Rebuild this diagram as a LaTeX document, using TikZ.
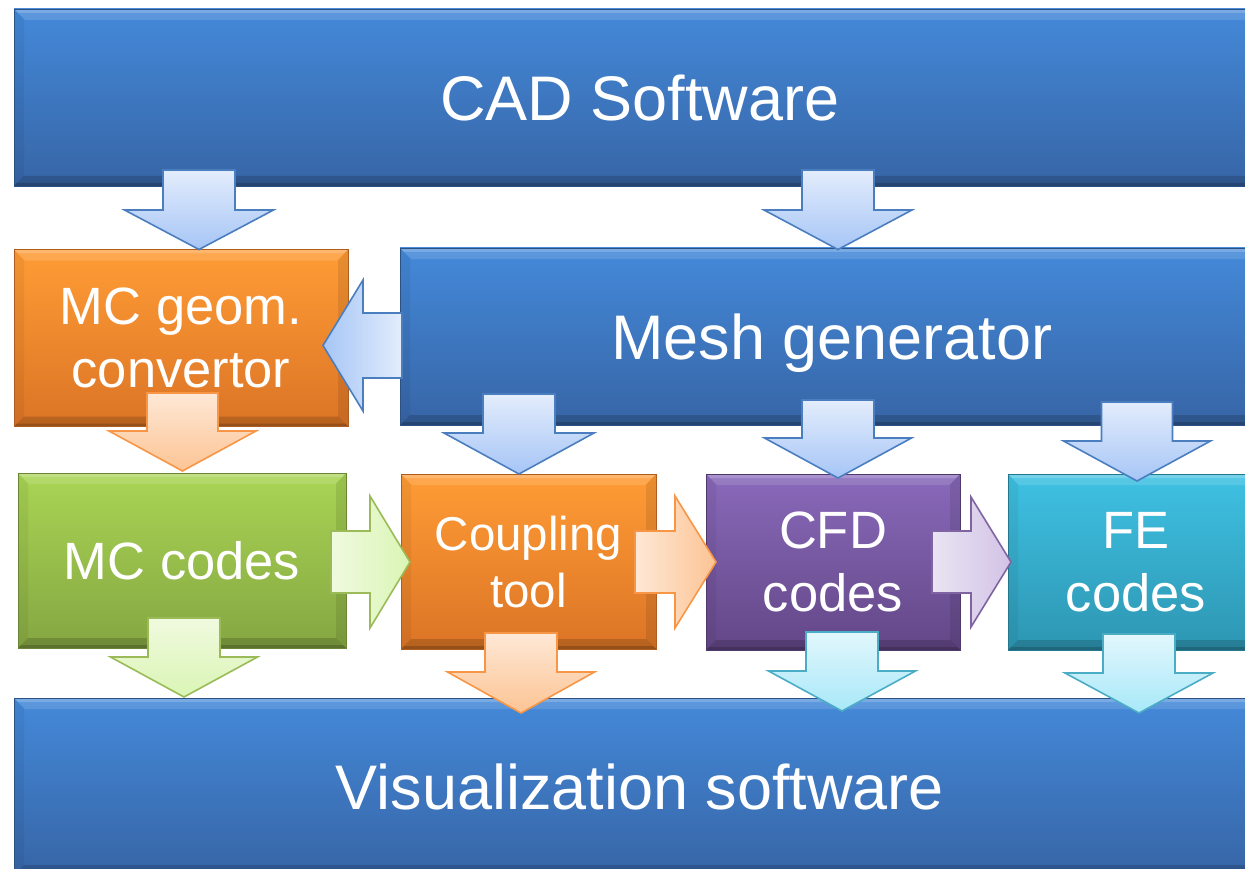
\documentclass[tikz,border=0pt]{standalone}
\usepackage{fontspec}
\setmainfont{Liberation Sans}
\usetikzlibrary{calc}

% panel colours (top / bottom of the vertical gradient)
\definecolor{bluetop}{HTML}{4489D9}
\definecolor{bluebot}{HTML}{3765A6}
\definecolor{orgtop}{HTML}{FF9C35}
\definecolor{orgbot}{HTML}{DB7426}
\definecolor{grntop}{HTML}{A9D554}
\definecolor{grnbot}{HTML}{85A642}
\definecolor{purtop}{HTML}{8969BA}
\definecolor{purbot}{HTML}{634787}
\definecolor{cyntop}{HTML}{3FC1E3}
\definecolor{cynbot}{HTML}{2D96B2}

% block-arrow colours (tail tint, tip tint, outline)
\definecolor{ablt}{HTML}{E3EDFC}
\definecolor{abld}{HTML}{A6C5F6}
\definecolor{ablb}{HTML}{4A7EBF}
\definecolor{aort}{HTML}{FEE8D6}
\definecolor{aord}{HTML}{FCC494}
\definecolor{aorb}{HTML}{F79646}
\definecolor{agrt}{HTML}{F0FADF}
\definecolor{agrd}{HTML}{DAF5B5}
\definecolor{agrb}{HTML}{9BBB59}
\definecolor{aput}{HTML}{EAE4F3}
\definecolor{apud}{HTML}{D2C3E6}
\definecolor{apub}{HTML}{8064A2}
\definecolor{acyt}{HTML}{E2F7FD}
\definecolor{acyd}{HTML}{A8E8F8}
\definecolor{acyb}{HTML}{4BACC6}

\newcommand\fontL{\fontsize{63}{76}\selectfont}
\newcommand\fontM{\fontsize{52.5}{63}\selectfont}
\newcommand\fontS{\fontsize{47.5}{57}\selectfont}

% block arrow: #1 style, #2 tail, #3 tip, #4 half shaft, #5 half head, #6 head length
\newcommand\blockarrow[6]{%
  \coordinate (hb) at ($(#3)!#6!(#2)$);
  \path[#1] ($(#2)!#4!90:(#3)$) -- ($(hb)!#4!90:(#3)$) -- ($(hb)!#5!90:(#3)$) -- (#3)
     -- ($(hb)!#5!-90:(#3)$) -- ($(hb)!#4!-90:(#3)$) -- ($(#2)!#4!-90:(#3)$) -- cycle;
}

\tikzset{
  panel/.style={rectangle, inner sep=0pt, text=white, align=center, text depth=0pt,
    top color=#1top, bottom color=#1bot, draw=#1bot!80!black, line width=0.5pt,
    path picture={
      % bevelled frame: light top, dark bottom, slightly dark sides
      \fill[white,opacity=.13]
        (path picture bounding box.north west) -- (path picture bounding box.north east)
        -- ([xshift=-11pt,yshift=-11pt]path picture bounding box.north east)
        -- ([xshift=11pt,yshift=-11pt]path picture bounding box.north west) -- cycle;
      \fill[white,opacity=.18]
        (path picture bounding box.north west) -- (path picture bounding box.north east)
        -- ([xshift=-4pt,yshift=-4pt]path picture bounding box.north east)
        -- ([xshift=4pt,yshift=-4pt]path picture bounding box.north west) -- cycle;
      \fill[black,opacity=.16]
        (path picture bounding box.south west) -- (path picture bounding box.south east)
        -- ([xshift=-10pt,yshift=10pt]path picture bounding box.south east)
        -- ([xshift=10pt,yshift=10pt]path picture bounding box.south west) -- cycle;
      \fill[black,opacity=.18]
        (path picture bounding box.south west) -- (path picture bounding box.south east)
        -- ([xshift=-3pt,yshift=3pt]path picture bounding box.south east)
        -- ([xshift=3pt,yshift=3pt]path picture bounding box.south west) -- cycle;
      \fill[black,opacity=.05]
        (path picture bounding box.north west) -- (path picture bounding box.south west)
        -- ([xshift=10pt,yshift=10pt]path picture bounding box.south west)
        -- ([xshift=10pt,yshift=-11pt]path picture bounding box.north west) -- cycle;
      \fill[black,opacity=.09]
        (path picture bounding box.north east) -- (path picture bounding box.south east)
        -- ([xshift=-10pt,yshift=10pt]path picture bounding box.south east)
        -- ([xshift=-10pt,yshift=-11pt]path picture bounding box.north east) -- cycle;
    }},
  arrowbase/.style={line width=1.6pt, line join=miter},
  ablue/.style={arrowbase, draw=ablb, top color=ablt, bottom color=abld},
  abluel/.style={arrowbase, draw=ablb, right color=ablt, left color=abld},
  aorange/.style={arrowbase, draw=aorb, top color=aort, bottom color=aord},
  aorangeh/.style={arrowbase, draw=aorb, left color=aort, right color=aord},
  agreen/.style={arrowbase, draw=agrb, top color=agrt, bottom color=agrd},
  agreenh/.style={arrowbase, draw=agrb, left color=agrt, right color=agrd},
  apurpleh/.style={arrowbase, draw=apub, left color=aput, right color=apud},
  acyan/.style={arrowbase, draw=acyb, top color=acyt, bottom color=acyd},
}

\begin{document}
\begin{tikzpicture}[x=1pt, y=-1pt]
\clip (0,0) rectangle (1245,869);

% ---------- panels ----------
\node[panel=blue, minimum width=1252pt, minimum height=177pt, font=\fontL] (cad) at (640,97.5) {CAD Software};
\node[panel=org, minimum width=334pt, minimum height=177pt, font=\fontM] (conv) at (181,338) {MC geom.\\convertor};
\node[panel=blue, minimum width=864pt, minimum height=177pt, font=\fontL] (mesh) at (832,336.5) {Mesh generator};
\node[panel=grn, minimum width=328pt, minimum height=175pt, font=\fontM] (mc) at (182,560.5) {MC codes};
\node[panel=org, minimum width=255pt, minimum height=175pt, font=\fontS] (coup) at (528.5,561.5) {Coupling\\tool};
\node[panel=pur, minimum width=254pt, minimum height=176pt, font=\fontM] (cfd) at (833,562) {CFD\\codes};
\node[panel=cyn, minimum width=256pt, minimum height=176pt, font=\fontM] (fe) at (1136,562) {FE\\codes};
\node[panel=blue, minimum width=1252pt, minimum height=177pt, font=\fontL] (vis) at (640,786.5) {Visualization software};

% ---------- connector end points ----------
\coordinate (cad-conv-t) at (199,170);  \coordinate (cad-conv-h) at (199,249.5);
\coordinate (cad-mesh-t) at (838,170);  \coordinate (cad-mesh-h) at (838,249.5);
\coordinate (mesh-conv-t) at (402,345.5); \coordinate (mesh-conv-h) at (323,345.5);
\coordinate (mesh-coup-t) at (519,394); \coordinate (mesh-coup-h) at (519,474);
\coordinate (mesh-cfd-t) at (838,400);  \coordinate (mesh-cfd-h) at (838,478);
\coordinate (mesh-fe-t) at (1137,402);  \coordinate (mesh-fe-h) at (1137,481);
\coordinate (conv-mc-t) at (182.5,393); \coordinate (conv-mc-h) at (182.5,471);
\coordinate (mc-coup-t) at (331,562);   \coordinate (mc-coup-h) at (410,562);
\coordinate (coup-cfd-t) at (635,562);  \coordinate (coup-cfd-h) at (716,562);
\coordinate (cfd-fe-t) at (932,562);    \coordinate (cfd-fe-h) at (1011,562);
\coordinate (mc-vis-t) at (184,618);    \coordinate (mc-vis-h) at (184,697);
\coordinate (coup-vis-t) at (521,633);  \coordinate (coup-vis-h) at (521,713);
\coordinate (cfd-vis-t) at (842,632);   \coordinate (cfd-vis-h) at (842,711);
\coordinate (fe-vis-t) at (1139,634);   \coordinate (fe-vis-h) at (1139,713);

% ---------- block arrows ----------
\blockarrow{ablue}{cad-conv-t}{cad-conv-h}{36pt}{74.5pt}{39.5pt}
\blockarrow{ablue}{cad-mesh-t}{cad-mesh-h}{36pt}{74pt}{39.5pt}
\blockarrow{abluel}{mesh-conv-t}{mesh-conv-h}{32.5pt}{65.5pt}{40pt}
\blockarrow{ablue}{mesh-coup-t}{mesh-coup-h}{36pt}{75pt}{41pt}
\blockarrow{ablue}{mesh-cfd-t}{mesh-cfd-h}{36pt}{73.5pt}{40pt}
\blockarrow{ablue}{mesh-fe-t}{mesh-fe-h}{35.5pt}{73.5pt}{40pt}
\blockarrow{aorange}{conv-mc-t}{conv-mc-h}{35.5pt}{73.5pt}{40pt}
\blockarrow{agreenh}{mc-coup-t}{mc-coup-h}{31pt}{66pt}{40pt}
\blockarrow{aorangeh}{coup-cfd-t}{coup-cfd-h}{31pt}{66pt}{41pt}
\blockarrow{apurpleh}{cfd-fe-t}{cfd-fe-h}{31pt}{65pt}{40pt}
\blockarrow{agreen}{mc-vis-t}{mc-vis-h}{36pt}{73.5pt}{40pt}
\blockarrow{aorange}{coup-vis-t}{coup-vis-h}{36pt}{73.5pt}{41pt}
\blockarrow{acyan}{cfd-vis-t}{cfd-vis-h}{36pt}{73.5pt}{40pt}
\blockarrow{acyan}{fe-vis-t}{fe-vis-h}{36pt}{74pt}{40pt}
\end{tikzpicture}
\end{document}
